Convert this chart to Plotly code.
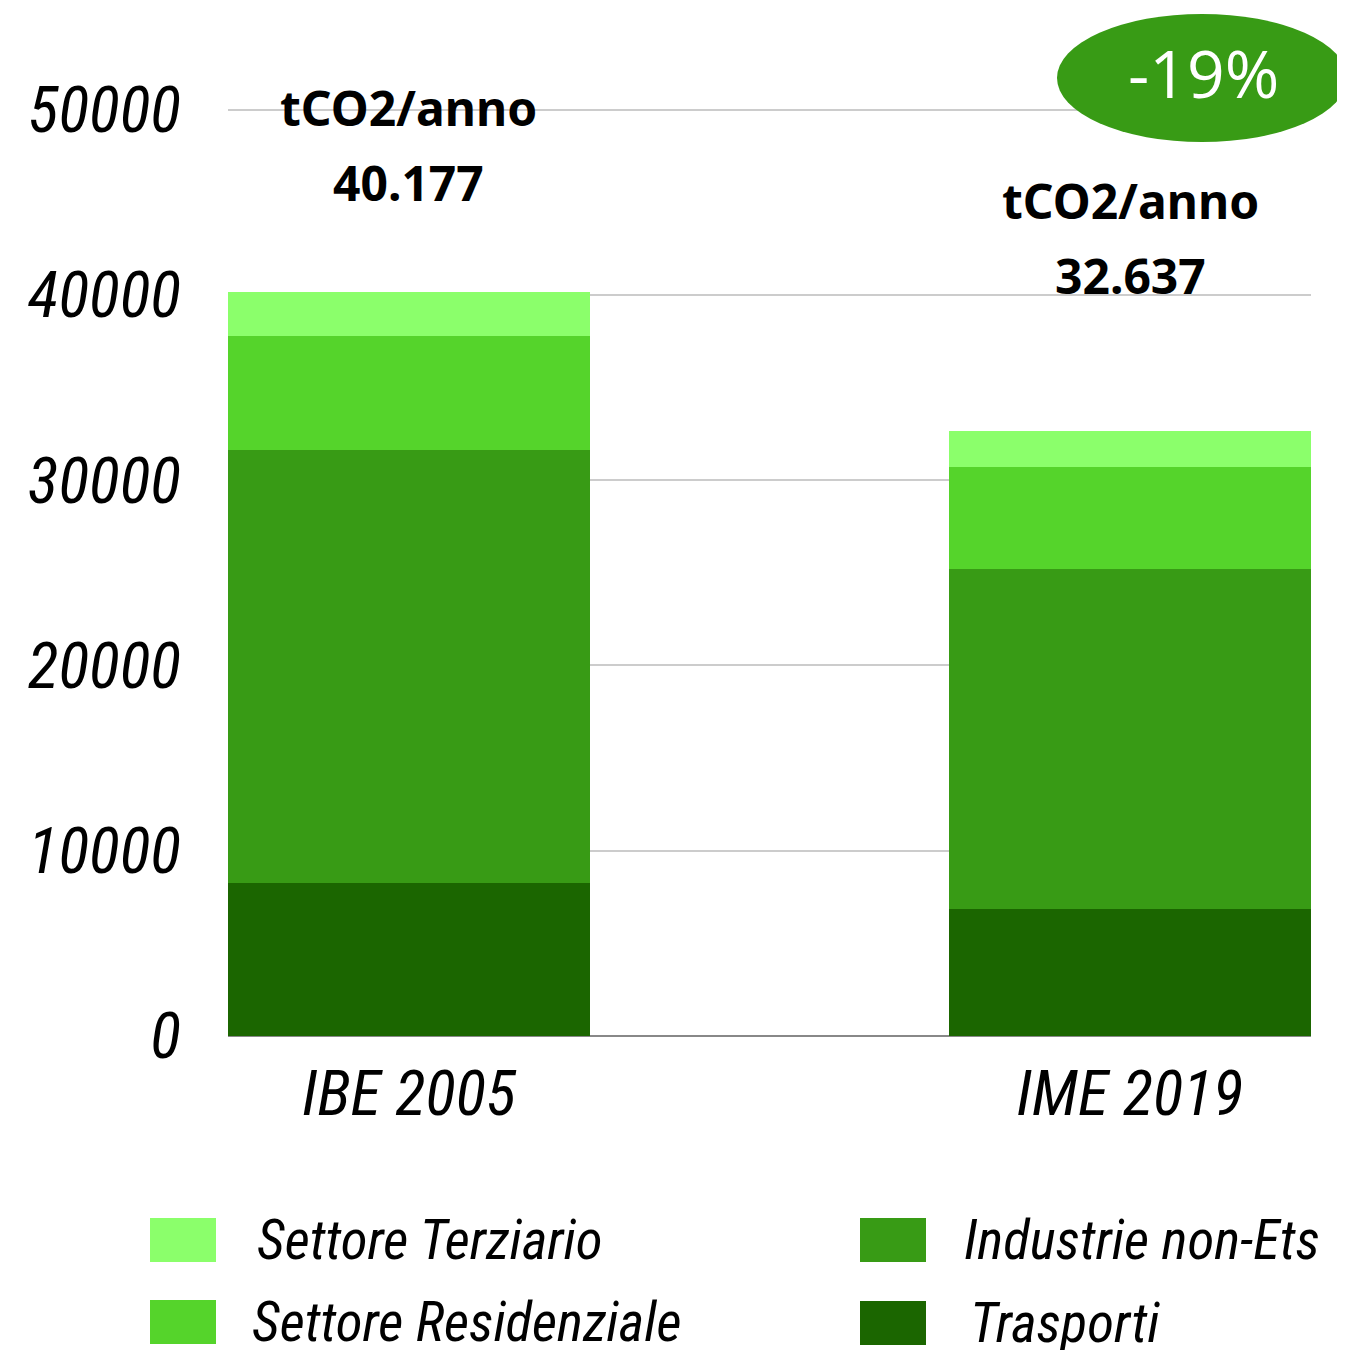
import plotly.graph_objects as go

# data
categories = ["IBE 2005", "IME 2019"]
trasporti = [8260, 6860]
industrie = [23380, 18360]
residenziale = [6160, 5510]
terziario = [2377, 1907]
totals_text = ["40.177", "32.637"]
unit_text = "tCO2/anno"
change_text = "-19%"

GREEN_LIGHT = "#8BFF6B"
GREEN_MID = "#55D42B"
GREEN = "#389B15"
GREEN_DARK = "#1B6600"

NARROW = "Liberation Sans Narrow, Roboto Condensed, Arial Narrow, sans-serif"
BOLD = "Noto Sans, DejaVu Sans, sans-serif"

# page body adds an 8px offset
OFF = 8
W, H = 1345 - OFF, 1350 - OFF
L, R, T, B = 228 - OFF, 1311 - OFF, 17 - OFF, 1036 - OFF


def px(x):
    return (x - OFF - L) / (R - L)


def py(y):
    return (B - (y - OFF)) / (B - T)


series = [
    ("Trasporti", trasporti, GREEN_DARK),
    ("Industrie non-Ets", industrie, GREEN),
    ("Settore Residenziale", residenziale, GREEN_MID),
    ("Settore Terziario", terziario, GREEN_LIGHT),
]

fig = go.Figure()
for name, vals, col in series:
    fig.add_trace(
        go.Bar(
            x=categories,
            y=vals,
            name=name,
            marker=dict(color=col, line=dict(width=0)),
            width=0.502,
            showlegend=False,
        )
    )

totals = [a + b + c + d for a, b, c, d in zip(trasporti, industrie, residenziale, terziario)]

# total labels above the bars
label_offsets = [(9930, 5880), (12450, 8400)]
for cat, tot, txt, (o1, o2) in zip(categories, totals, totals_text, label_offsets):
    fig.add_annotation(
        x=cat, y=tot + o1, text=f"<b>{unit_text}</b>", showarrow=False,
        font=dict(family=BOLD, size=48, color="black"), yanchor="middle",
    )
    fig.add_annotation(
        x=cat, y=tot + o2, text=f"<b>{txt}</b>", showarrow=False,
        font=dict(family=BOLD, size=48, color="black"), yanchor="middle",
    )

# -19% badge
fig.add_shape(
    type="circle", xref="paper", yref="paper",
    x0=px(1057), x1=px(1347), y0=py(142), y1=py(14),
    fillcolor=GREEN, line=dict(width=0), layer="above",
)
fig.add_annotation(
    xref="paper", yref="paper", x=px(1203), y=py(72), text=change_text,
    showarrow=False, font=dict(family="Open Sans, Noto Sans, sans-serif", size=66, color="white"),
    xanchor="center", yanchor="middle",
)

# manual legend
legend_items = [
    ("Settore Terziario", GREEN_LIGHT, 150, 1240, 255),
    ("Settore Residenziale", GREEN_MID, 150, 1322, 250),
    ("Industrie non-Ets", GREEN, 860, 1240, 962),
    ("Trasporti", GREEN_DARK, 860, 1323, 968),
]
for name, col, sx, cy, tx in legend_items:
    fig.add_shape(
        type="rect", xref="paper", yref="paper",
        x0=px(sx), x1=px(sx + 66), y0=py(cy + 22), y1=py(cy - 22),
        fillcolor=col, line=dict(width=0),
    )
    fig.add_annotation(
        xref="paper", yref="paper", x=px(tx), y=py(cy), text=f"<i>{name}</i>",
        showarrow=False, xanchor="left", yanchor="middle",
        font=dict(family=NARROW, size=55, color="black"),
    )

fig.update_layout(
    barmode="stack",
    width=W,
    height=H,
    margin=dict(l=L, r=W - R, t=T, b=H - B, pad=0),
    plot_bgcolor="white",
    paper_bgcolor="white",
    showlegend=False,
)
fig.update_xaxes(
    range=[-0.251, 1.251],
    showgrid=False,
    showline=False,
    tickfont=dict(family=NARROW, size=63, color="black", style="italic"),
    ticklabelstandoff=15,
)
fig.update_yaxes(
    range=[0, 55000],
    tickvals=[0, 10000, 20000, 30000, 40000, 50000],
    ticktext=["0", "10000", "20000", "30000", "40000", "50000"],
    showgrid=True,
    gridcolor="#CCCCCC",
    gridwidth=1.5,
    zeroline=True,
    zerolinecolor="#888888",
    zerolinewidth=2,
    tickfont=dict(family=NARROW, size=64, color="black", style="italic"),
    ticklabelstandoff=46,
)

fig.write_html("out.html")
